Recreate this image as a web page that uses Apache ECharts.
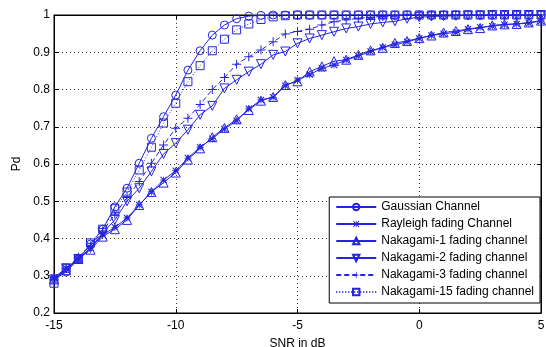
<!DOCTYPE html>
<html>
<head>
<meta charset="utf-8">
<script src="https://cdn.jsdelivr.net/npm/echarts@6/dist/echarts.min.js"></script>
<style>
  html, body { margin: 0; padding: 0; background: #fff; }
  #chart { width: 546px; height: 347px; }
</style>
</head>
<body>
<div id="chart"></div>
<script>
// SNR in dB, step 0.5
const snr = [-15, -14.5, -14, -13.5, -13, -12.5, -12, -11.5, -11, -10.5, -10, -9.5, -9, -8.5, -8, -7.5, -7, -6.5, -6, -5.5,
  -5, -4.5, -4, -3.5, -3, -2.5, -2, -1.5, -1, -0.5, 0, 0.5, 1, 1.5, 2, 2.5, 3, 3.5, 4, 4.5, 5];

const gaussian = [0.29, 0.31, 0.345, 0.385, 0.425, 0.485, 0.535, 0.602, 0.669, 0.727, 0.785, 0.852, 0.904, 0.946, 0.973, 0.99, 0.997, 0.999, 1, 1,
  1, 1, 1, 1, 1, 1, 1, 1, 1, 1, 1, 1, 1, 1, 1, 1, 1, 1, 1, 1, 1];
const rayleigh = [0.295, 0.32, 0.345, 0.375, 0.41, 0.43, 0.455, 0.49, 0.525, 0.557, 0.582, 0.616, 0.645, 0.668, 0.694, 0.716, 0.748, 0.772, 0.779, 0.81,
  0.825, 0.84, 0.857, 0.866, 0.879, 0.89, 0.902, 0.913, 0.92, 0.928, 0.937, 0.945, 0.95, 0.953, 0.962, 0.967, 0.97, 0.974, 0.976, 0.978, 0.984];
const naka1 = [0.29, 0.315, 0.345, 0.37, 0.405, 0.425, 0.45, 0.49, 0.525, 0.55, 0.577, 0.612, 0.642, 0.672, 0.697, 0.72, 0.745, 0.77, 0.78, 0.812,
  0.822, 0.848, 0.862, 0.876, 0.88, 0.893, 0.905, 0.912, 0.925, 0.93, 0.938, 0.945, 0.953, 0.957, 0.962, 0.965, 0.972, 0.975, 0.976, 0.98, 0.985];
const naka2 = [0.29, 0.32, 0.345, 0.375, 0.415, 0.45, 0.5, 0.535, 0.58, 0.627, 0.656, 0.692, 0.732, 0.756, 0.803, 0.826, 0.848, 0.868, 0.893, 0.902,
  0.924, 0.937, 0.946, 0.955, 0.964, 0.969, 0.976, 0.98, 0.983, 0.99, 0.994, 0.996, 0.997, 0.998, 0.999, 0.999, 1, 1, 1, 1, 1];
const naka3 = [0.295, 0.32, 0.35, 0.38, 0.42, 0.465, 0.51, 0.553, 0.602, 0.651, 0.696, 0.723, 0.76, 0.8, 0.832, 0.868, 0.888, 0.906, 0.928, 0.949,
  0.956, 0.962, 0.973, 0.982, 0.987, 0.991, 0.994, 0.996, 0.998, 0.999, 1, 1, 1, 1, 1, 1, 1, 1, 1, 1, 1];
const naka15 = [0.28, 0.32, 0.345, 0.388, 0.425, 0.48, 0.525, 0.584, 0.645, 0.71, 0.763, 0.821, 0.864, 0.904, 0.935, 0.96, 0.976, 0.988, 0.995, 0.998,
  1, 1, 1, 1, 1, 1, 1, 1, 1, 1, 1, 1, 1, 1, 1, 1, 1, 1, 1, 1, 1];

const names = ['Gaussian Channel', 'Rayleigh fading Channel', 'Nakagami-1 fading channel',
  'Nakagami-2 fading channel', 'Nakagami-3 fading channel', 'Nakagami-15 fading channel'];

const blue = '#2424e0';
const plusPath = 'path://M4,0h1v9h-1zM0,4h9v1h-9z';
const starPath = 'path://M4,0h1v9h-1zM0,4h9v1h-9zM0,1L1,0L9,8L8,9zM8,0L9,1L1,9L0,8z';

function pairs(ys) {
  return snr.map((x, i) => [x, ys[i]]);
}

// hollow: marker drawn as outline only, line shows through it
function mkSeries(name, ys, symbol, size, lineType, hollow, rotate) {
  return {
    name,
    type: 'line',
    data: pairs(ys),
    symbol,
    symbolSize: size,
    symbolRotate: rotate || 0,
    showSymbol: true,
    showAllSymbol: true,
    animation: false,
    lineStyle: { color: blue, width: 1, type: lineType },
    itemStyle: hollow
      ? { color: 'rgba(0,0,0,0)', borderColor: blue, borderWidth: 1 }
      : { color: blue, borderWidth: 0 },
    emphasis: { disabled: true },
  };
}

const chart = echarts.init(document.getElementById('chart'));
const axisText = { color: '#000', fontFamily: 'Liberation Sans', fontSize: 12 };
const split = { show: true, lineStyle: { color: '#000', type: [1, 3], width: 1, opacity: 0.8 } };
const edge = { show: true, onZero: false, lineStyle: { color: '#000' } };
const tick = { show: true, inside: true, length: 4, lineStyle: { color: '#000' } };

chart.setOption({
  animation: false,
  backgroundColor: '#fff',
  grid: {
    left: 54, right: 5, top: 15, bottom: 34,
    outerBoundsMode: 'none',
    show: true, borderColor: '#000', borderWidth: 1,
  },
  legend: {
    orient: 'vertical',
    right: 6,
    top: 197,
    backgroundColor: '#fff',
    borderColor: '#000',
    borderWidth: 1,
    padding: [4, 6, 5, 6],
    itemWidth: 40,
    itemHeight: 8,
    itemGap: 5,
    textStyle: { color: '#000', fontFamily: 'Liberation Sans', fontSize: 12 },
    data: names,
  },
  xAxis: [
    {
      type: 'value', min: -15, max: 5, interval: 5,
      name: 'SNR in dB', nameLocation: 'middle', nameGap: 25,
      nameTextStyle: axisText,
      axisLine: edge, axisTick: tick,
      axisLabel: { ...axisText, margin: 7 },
      splitLine: split,
    },
    {
      type: 'value', min: -15, max: 5, interval: 5, position: 'top',
      axisLine: edge, axisTick: tick,
      axisLabel: { show: false }, splitLine: { show: false },
    },
  ],
  yAxis: [
    {
      type: 'value', min: 0.2, max: 1, interval: 0.1,
      name: 'Pd', nameLocation: 'middle', nameGap: 27,
      nameTextStyle: axisText,
      axisLine: edge, axisTick: tick,
      axisLabel: { ...axisText, margin: 4 },
      splitLine: split,
    },
    {
      type: 'value', min: 0.2, max: 1, interval: 0.1, position: 'right',
      axisLine: edge, axisTick: tick,
      axisLabel: { show: false }, splitLine: { show: false },
    },
  ],
  series: [
    mkSeries(names[0], gaussian, 'circle', 8, 'solid', true),
    mkSeries(names[1], rayleigh, starPath, 7, 'solid', false),
    mkSeries(names[2], naka1, 'triangle', 9, 'solid', true),
    mkSeries(names[3], naka2, 'triangle', 9, 'solid', true, 180),
    mkSeries(names[4], naka3, plusPath, 9, [5, 3], false),
    mkSeries(names[5], naka15, 'rect', 8, [1, 2], true),
  ],
});
</script>
</body>
</html>
